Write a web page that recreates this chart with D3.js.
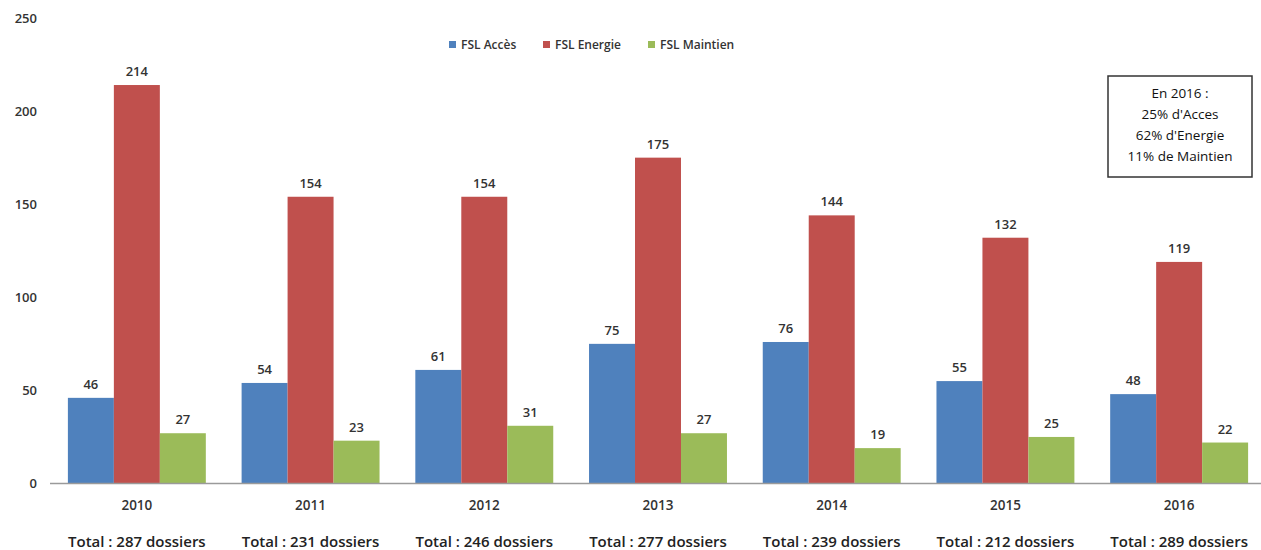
<head><meta charset="utf-8"></head>
<body style="margin:0;background:#fff">
    <div id="chart"></div>
    <script src="https://cdn.jsdelivr.net/npm/d3@7"></script>
    <script>
        var width = 1261,
            height = 550;

        var years = ['2010', '2011', '2012', '2013', '2014', '2015', '2016'];
        var series = ['FSL Accès', 'FSL Energie', 'FSL Maintien'];
        var acces = [46, 54, 61, 75, 76, 55, 48];
        var energie = [214, 154, 154, 175, 144, 132, 119];
        var maintien = [27, 23, 31, 27, 19, 25, 22];
        var totals = [287, 231, 246, 277, 239, 212, 289];
        var yTicks = [0, 50, 100, 150, 200, 250];
        var noteLines = ['En 2016 :', "25% d'Acces", "62% d'Energie", '11% de Maintien'];

        var values = [acces, energie, maintien];

        var clr = d3.scaleOrdinal()
            .domain(series)
            .range(['#4F81BD', '#C0504D', '#9BBB59']);

        var svg = d3.select('#chart')
            .append('svg')
            .attr('width', width)
            .attr('height', height)
            .style('font-family', '"Open Sans", sans-serif');

        var x0 = d3.scaleBand()
            .domain(years)
            .range([50, 1266]);

        var bw = x0.bandwidth();
        var x1 = d3.scaleBand()
            .domain(series)
            .range([bw * 0.103, bw * 0.897]);

        var y = d3.scaleLinear()
            .domain([0, 250])
            .range([483.5, 18]);

        // y tick labels only, no axis line
        svg.selectAll('.ytick')
            .data(yTicks)
            .enter().append('text')
            .attr('x', 37)
            .attr('y', function(d){ return y(d) + 4.5; })
            .attr('text-anchor', 'end')
            .attr('font-size', 13)
            .attr('font-weight', 600)
            .attr('fill', '#333')
            .text(function(d){ return d; });

        var groups = svg.selectAll('.grp')
            .data(years)
            .enter().append('g')
            .attr('transform', function(d){ return 'translate(' + x0(d) + ',0)'; });

        groups.each(function(yr, i){
            var g = d3.select(this);
            var rows = series.map(function(s, k){ return {s: s, v: values[k][i]}; });

            g.selectAll('rect')
                .data(rows)
                .enter().append('rect')
                .attr('x', function(d){ return x1(d.s); })
                .attr('width', x1.bandwidth())
                .attr('y', function(d){ return y(d.v); })
                .attr('height', function(d){ return y(0) - y(d.v); })
                .attr('fill', function(d){ return clr(d.s); });

            g.selectAll('.val')
                .data(rows)
                .enter().append('text')
                .attr('x', function(d){ return x1(d.s) + x1.bandwidth() / 2; })
                .attr('y', function(d){ return y(d.v) - 9; })
                .attr('text-anchor', 'middle')
                .attr('font-size', 13)
                .attr('font-weight', 600)
                .attr('fill', '#333')
                .text(function(d){ return d.v; });

            g.append('text')
                .attr('x', bw / 2)
                .attr('y', 510)
                .attr('text-anchor', 'middle')
                .attr('font-size', 13.5)
                .attr('font-weight', 600)
                .attr('fill', '#333')
                .text(yr);

            g.append('text')
                .attr('x', bw / 2)
                .attr('y', 547)
                .attr('text-anchor', 'middle')
                .attr('font-size', 15)
                .attr('font-weight', 600)
                .attr('fill', '#222')
                .text('Total : ' + totals[i] + ' dossiers');
        });

        // x axis line
        svg.append('line')
            .attr('x1', x0.range()[0])
            .attr('x2', x0.range()[1])
            .attr('y1', y(0))
            .attr('y2', y(0))
            .attr('stroke', '#9a9a9a')
            .attr('stroke-width', 1.5);

        // legend
        var legX = [449, 543, 648];
        var leg = svg.selectAll('.leg')
            .data(series)
            .enter().append('g')
            .attr('transform', function(d, i){ return 'translate(' + legX[i] + ',45)'; });
        leg.append('rect')
            .attr('x', 0).attr('y', -4)
            .attr('width', 7).attr('height', 7)
            .attr('fill', function(d){ return clr(d); });
        leg.append('text')
            .attr('x', 12).attr('y', 4)
            .attr('font-size', 12)
            .attr('font-weight', 600)
            .attr('fill', '#333')
            .text(function(d){ return d; });

        // note box
        svg.append('rect')
            .attr('x', 1108).attr('y', 76)
            .attr('width', 144).attr('height', 101)
            .attr('fill', '#fff')
            .attr('stroke', '#333')
            .attr('stroke-width', 1.5);
        svg.selectAll('.note')
            .data(noteLines)
            .enter().append('text')
            .attr('x', 1180)
            .attr('y', function(d, i){ return 98 + i * 21; })
            .attr('text-anchor', 'middle')
            .attr('font-size', 13.5)
            .attr('fill', '#111')
            .text(function(d){ return d; });
    </script>
</body>
